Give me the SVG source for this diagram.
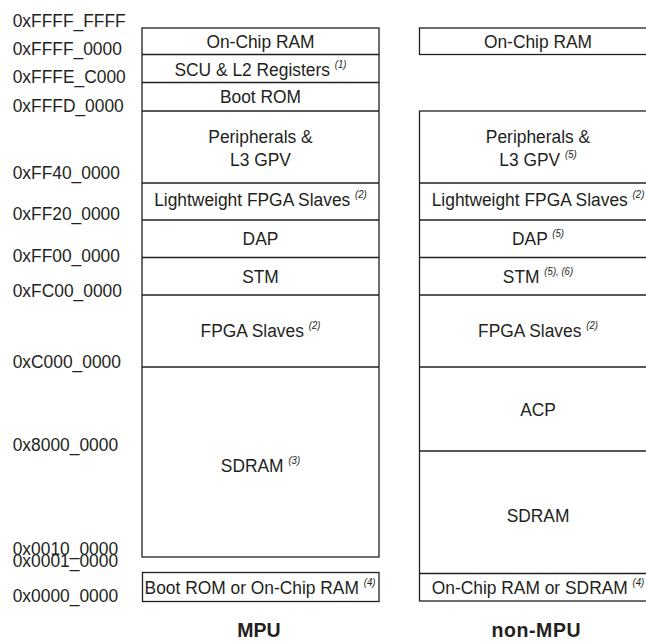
<svg xmlns="http://www.w3.org/2000/svg" width="646" height="641" viewBox="0 0 646 641">
<style>
text{font-family:"Liberation Sans",Arial,sans-serif;fill:#231f20}
.l{font-size:19px}
.c{font-size:19px;text-anchor:middle}
.s{font-size:10.5px;font-style:italic}
.t{font-size:19.5px;font-weight:bold;text-anchor:middle}
.b{fill:#fff;stroke:#231f20;stroke-width:1.3}
.d{stroke:#231f20;stroke-width:1.3}
</style>
<rect width="646" height="641" fill="#fff"/>
<g id="addresses">
<text class="l" transform="scale(0.915 1)" x="13.9" y="27.3">0xFFFF_FFFF</text>
<text class="l" transform="scale(0.915 1)" x="13.9" y="55">0xFFFF_0000</text>
<text class="l" transform="scale(0.915 1)" x="13.9" y="82.7">0xFFFE_C000</text>
<text class="l" transform="scale(0.915 1)" x="13.9" y="111.7">0xFFFD_0000</text>
<text class="l" transform="scale(0.915 1)" x="13.9" y="179.3">0xFF40_0000</text>
<text class="l" transform="scale(0.915 1)" x="13.9" y="220">0xFF20_0000</text>
<text class="l" transform="scale(0.915 1)" x="13.9" y="261.7">0xFF00_0000</text>
<text class="l" transform="scale(0.915 1)" x="13.9" y="297.3">0xFC00_0000</text>
<text class="l" transform="scale(0.915 1)" x="13.9" y="368">0xC000_0000</text>
<text class="l" transform="scale(0.915 1)" x="13.9" y="451">0x8000_0000</text>
<text class="l" transform="scale(0.915 1)" x="13.9" y="555">0x0010_0000</text>
<text class="l" transform="scale(0.915 1)" x="13.9" y="567">0x0001_0000</text>
<text class="l" transform="scale(0.915 1)" x="13.9" y="601.7">0x0000_0000</text>
</g>
<g id="mpu">
<rect class="b" x="142" y="28" width="237" height="529"/>
<line class="d" x1="142" y1="54.5" x2="379" y2="54.5"/>
<line class="d" x1="142" y1="82.5" x2="379" y2="82.5"/>
<line class="d" x1="142" y1="111" x2="379" y2="111"/>
<line class="d" x1="142" y1="183" x2="379" y2="183"/>
<line class="d" x1="142" y1="220" x2="379" y2="220"/>
<line class="d" x1="142" y1="257.5" x2="379" y2="257.5"/>
<line class="d" x1="142" y1="295" x2="379" y2="295"/>
<line class="d" x1="142" y1="367" x2="379" y2="367"/>
<text class="c" transform="scale(0.915 1)" x="284.7" y="47.7">On-Chip RAM</text>
<text class="c" transform="scale(0.915 1)" x="284.7" y="76">SCU &amp; L2 Registers <tspan class="s" dy="-8">(1)</tspan></text>
<text class="c" transform="scale(0.915 1)" x="284.7" y="103.3">Boot ROM</text>
<text class="c" transform="scale(0.915 1)" x="284.7" y="143.3">Peripherals &amp;</text>
<text class="c" transform="scale(0.915 1)" x="284.7" y="165.7">L3 GPV</text>
<text class="c" transform="scale(0.915 1)" x="284.7" y="206">Lightweight FPGA Slaves <tspan class="s" dy="-8">(2)</tspan></text>
<text class="c" transform="scale(0.915 1)" x="284.7" y="245">DAP</text>
<text class="c" transform="scale(0.915 1)" x="284.7" y="282.7">STM</text>
<text class="c" transform="scale(0.915 1)" x="284.7" y="336.7">FPGA Slaves <tspan class="s" dy="-8">(2)</tspan></text>
<text class="c" transform="scale(0.915 1)" x="284.7" y="472">SDRAM <tspan class="s" dy="-8">(3)</tspan></text>
</g>
<g id="mpu-low">
<rect class="b" x="142.5" y="572.5" width="236.5" height="29"/>
<text class="c" transform="scale(0.915 1)" x="284.2" y="594">Boot ROM or On-Chip RAM <tspan class="s" dy="-8">(4)</tspan></text>
</g>
<g id="nonmpu-top">
<rect class="b" x="419.5" y="28" width="237" height="26.5"/>
<text class="c" transform="scale(0.915 1)" x="588" y="47.7">On-Chip RAM</text>
</g>
<g id="nonmpu">
<rect class="b" x="419.5" y="111" width="237" height="490"/>
<line class="d" x1="419.5" y1="183" x2="656.5" y2="183"/>
<line class="d" x1="419.5" y1="220" x2="656.5" y2="220"/>
<line class="d" x1="419.5" y1="257.5" x2="656.5" y2="257.5"/>
<line class="d" x1="419.5" y1="295" x2="656.5" y2="295"/>
<line class="d" x1="419.5" y1="367" x2="656.5" y2="367"/>
<line class="d" x1="419.5" y1="451" x2="656.5" y2="451"/>
<line class="d" x1="419.5" y1="573.5" x2="656.5" y2="573.5"/>
<text class="c" transform="scale(0.915 1)" x="588" y="143.3">Peripherals &amp;</text>
<text class="c" transform="scale(0.915 1)" x="588" y="165.7">L3 GPV <tspan class="s" dy="-8">(5)</tspan></text>
<text class="c" transform="scale(0.915 1)" x="588" y="206">Lightweight FPGA Slaves <tspan class="s" dy="-8">(2)</tspan></text>
<text class="c" transform="scale(0.915 1)" x="588" y="245">DAP <tspan class="s" dy="-8">(5)</tspan></text>
<text class="c" transform="scale(0.915 1)" x="588" y="282.7">STM <tspan class="s" dy="-8">(5), (6)</tspan></text>
<text class="c" transform="scale(0.915 1)" x="588" y="336.7">FPGA Slaves <tspan class="s" dy="-8">(2)</tspan></text>
<text class="c" transform="scale(0.915 1)" x="588" y="416.5">ACP</text>
<text class="c" transform="scale(0.915 1)" x="588" y="522.5">SDRAM</text>
<text class="c" transform="scale(0.915 1)" x="588" y="594">On-Chip RAM or SDRAM <tspan class="s" dy="-8">(4)</tspan></text>
</g>
<g id="titles">
<text class="t" x="259" y="637.3">MPU</text>
<text class="t" x="536.3" y="637.3" letter-spacing="0.6">non-MPU</text>
</g>
</svg>
